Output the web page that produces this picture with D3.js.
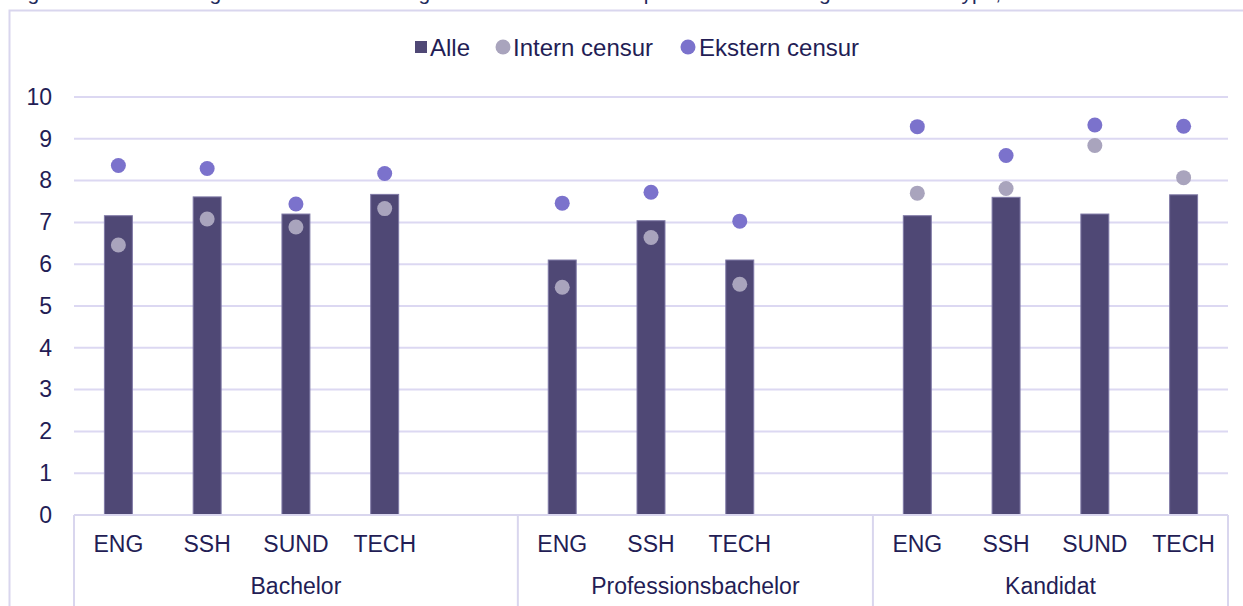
<!DOCTYPE html>
<html>
<head>
<meta charset="utf-8">
<script src="https://cdn.jsdelivr.net/npm/d3@7"></script>
<style>
  html, body { margin: 0; padding: 0; background: #fff; }
  svg { display: block; font-family: "Liberation Sans", Arial, sans-serif; }
</style>
</head>
<body>
<svg id="chart" width="1243" height="606"></svg>
<script>
// ---- data ----
const titleText = "Figur 6: Gennemsnitlig karakter ved intern og ekstern censur fordelt på hovedområde og uddannelsestype, 2019";
const groupLabels = ["Bachelor", "Professionsbachelor", "Kandidat"];
const groupSizes = [5, 4, 4];
const categories = ["ENG", "SSH", "SUND", "TECH", "", "ENG", "SSH", "TECH", "", "ENG", "SSH", "SUND", "TECH"];
const alle    = [7.16, 7.61, 7.20, 7.67, null, 6.10, 7.04, 6.10, null, 7.16, 7.60, 7.20, 7.66];
const intern  = [6.46, 7.08, 6.89, 7.33, null, 5.45, 6.64, 5.52, null, 7.70, 7.81, 8.84, 8.07];
const ekstern = [8.36, 8.29, 7.44, 8.17, null, 7.46, 7.72, 7.03, null, 9.29, 8.60, 9.33, 9.30];
const yTicks = [0, 1, 2, 3, 4, 5, 6, 7, 8, 9, 10];
const seriesNames = ["Alle", "Intern censur", "Ekstern censur"];

(function () {
// ---- styles ----
const colBar = "#4f4875", colBarEdge = "#7f79a6";
const colIntern = "#a9a4bd", colEkstern = "#7b72cc";
const colGrid = "#dcd8f2", colText = "#231d55", colFrame = "#d9d6ee";
const fs = 23, fsLegend = 24;

const svg = d3.select("#chart");
const pLeft = 74, pRight = 1228, pTop = 97, pBottom = 515;

// frame
svg.append("path").attr("d", `M9.5,606 V10.5 H1243`).attr("fill", "none").attr("stroke", colFrame).attr("stroke-width", 2);

// clipped title (only descenders visible)
svg.append("text").attr("x", 10).attr("y", 0).attr("font-size", 21).attr("fill", "#1f2a5c").text(titleText);

const slotKeys = categories.map((c, i) => i);
const x = d3.scaleBand().domain(slotKeys).range([pLeft, pRight]).paddingInner(0.685).paddingOuter(0.3425);
const y = d3.scaleLinear().domain([0, 10]).range([pBottom, pTop]);

// gridlines
svg.append("g").selectAll("line").data(yTicks.filter(t => t > 0)).join("line")
  .attr("x1", pLeft).attr("x2", pRight)
  .attr("y1", d => y(d)).attr("y2", d => y(d))
  .attr("stroke", colGrid).attr("stroke-width", 2);

// y axis labels
const yAxis = d3.axisLeft(y).tickValues(yTicks).tickSize(0).tickPadding(0);
const gy = svg.append("g").attr("transform", `translate(52,0)`).call(yAxis);
gy.select(".domain").remove();
gy.selectAll("text").attr("font-size", fs).attr("fill", colText).attr("font-family", "Liberation Sans, Arial, sans-serif");

// bars
const idx = d3.range(categories.length);
svg.append("g").selectAll("rect").data(idx.filter(i => alle[i] != null)).join("rect")
  .attr("x", i => x(i)).attr("width", x.bandwidth())
  .attr("y", i => y(alle[i])).attr("height", i => y(0) - y(alle[i]))
  .attr("fill", colBar).attr("stroke", colBarEdge).attr("stroke-width", 1);

// dots
const cx = i => x(i) + x.bandwidth() / 2;
svg.append("g").selectAll("circle").data(idx.filter(i => intern[i] != null)).join("circle")
  .attr("cx", cx).attr("cy", i => y(intern[i])).attr("r", 7.5).attr("fill", colIntern);
svg.append("g").selectAll("circle").data(idx.filter(i => ekstern[i] != null)).join("circle")
  .attr("cx", cx).attr("cy", i => y(ekstern[i])).attr("r", 7.5).attr("fill", colEkstern);

// category axis
svg.append("line").attr("x1", pLeft).attr("x2", pRight).attr("y1", pBottom).attr("y2", pBottom)
  .attr("stroke", colFrame).attr("stroke-width", 2);
svg.append("g").selectAll("text").data(idx.filter(i => categories[i] !== "")).join("text")
  .attr("x", cx).attr("y", 552).attr("text-anchor", "middle")
  .attr("font-size", fs).attr("fill", colText).text(i => categories[i]);

// group dividers and labels
let start = 0;
const bounds = [];
groupSizes.forEach((n, g) => {
  const x0 = x(start) - x.step() * x.paddingInner() / 2;
  const x1 = x(start + n - 1) + x.bandwidth() + x.step() * x.paddingInner() / 2;
  bounds.push({ g, x0, x1 });
  start += n;
});
svg.append("g").selectAll("line").data([bounds[0].x0, ...bounds.map(b => b.x1)]).join("line")
  .attr("x1", d => d).attr("x2", d => d).attr("y1", pBottom).attr("y2", 606)
  .attr("stroke", colFrame).attr("stroke-width", 2);
svg.append("g").selectAll("text").data(bounds).join("text")
  .attr("x", b => (b.x0 + b.x1) / 2).attr("y", 594).attr("text-anchor", "middle")
  .attr("font-size", fs).attr("fill", colText).text(b => groupLabels[b.g]);

// legend
const lg = svg.append("g").attr("font-size", fsLegend).attr("fill", colText);
lg.append("rect").attr("x", 415).attr("y", 41).attr("width", 12).attr("height", 12).attr("fill", colBar);
lg.append("text").attr("x", 430).attr("y", 55.5).text(seriesNames[0]);
lg.append("circle").attr("cx", 503).attr("cy", 47).attr("r", 7.5).attr("fill", colIntern);
lg.append("text").attr("x", 513).attr("y", 55.5).text(seriesNames[1]);
lg.append("circle").attr("cx", 688).attr("cy", 47).attr("r", 7.5).attr("fill", colEkstern);
lg.append("text").attr("x", 699).attr("y", 55.5).text(seriesNames[2]);
})();
</script>
</body>
</html>
